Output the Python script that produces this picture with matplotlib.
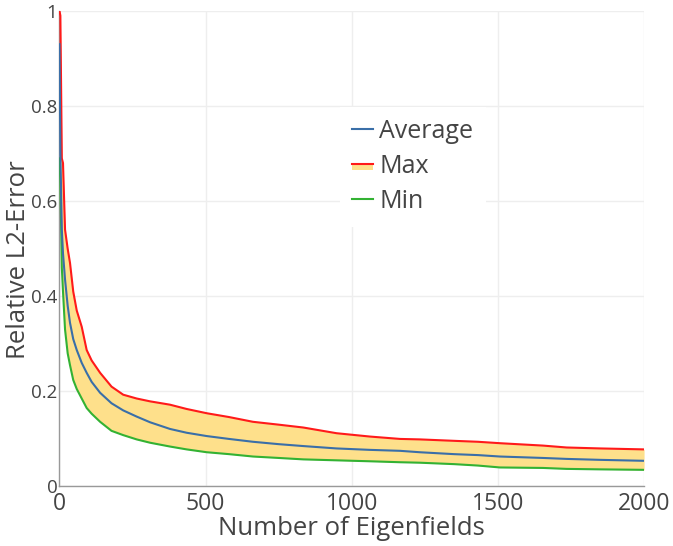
import matplotlib
matplotlib.use("Agg")
import matplotlib.pyplot as plt
from matplotlib.legend_handler import HandlerBase
from matplotlib.patches import Rectangle
from matplotlib.lines import Line2D

plt.rcParams['font.family'] = ['Open Sans', 'DejaVu Sans']

x_vals = [0, 3, 8, 12, 19, 28, 36, 47, 59, 76, 93, 110, 139, 178, 218, 264, 310,
          378, 435, 504, 580, 662, 750, 834, 948, 1062, 1165, 1233, 1350, 1432,
          1507, 1654, 1735, 1850, 2000]
max_vals = [1.0, 0.99, 0.69, 0.68, 0.54, 0.50, 0.47, 0.41, 0.37, 0.336, 0.287,
            0.265, 0.239, 0.21, 0.193, 0.185, 0.179, 0.172, 0.163, 0.154, 0.146,
            0.136, 0.130, 0.124, 0.112, 0.105, 0.100, 0.099, 0.096, 0.094, 0.091,
            0.086, 0.082, 0.080, 0.078]
avg_vals = [0.93, 0.70, 0.54, 0.49, 0.435, 0.38, 0.344, 0.31, 0.287, 0.26, 0.239,
            0.22, 0.197, 0.175, 0.16, 0.147, 0.135, 0.121, 0.113, 0.106, 0.100,
            0.094, 0.089, 0.085, 0.080, 0.077, 0.075, 0.072, 0.068, 0.066, 0.063,
            0.060, 0.058, 0.056, 0.054]
min_vals = [0.69, 0.64, 0.46, 0.41, 0.33, 0.28, 0.255, 0.224, 0.205, 0.185, 0.165,
            0.153, 0.136, 0.117, 0.108, 0.099, 0.092, 0.084, 0.078, 0.072, 0.068,
            0.063, 0.060, 0.057, 0.055, 0.053, 0.051, 0.050, 0.047, 0.044, 0.040,
            0.039, 0.037, 0.036, 0.035]

x_ticks = [0, 500, 1000, 1500, 2000]
y_ticks = [0, 0.2, 0.4, 0.6, 0.8, 1]
y_tick_labels = ["0", "0.2", "0.4", "0.6", "0.8", "1"]

RED = '#ff1a1a'
BLUE = '#3a6fa8'
GREEN = '#33b233'
FILL = '#fee08b'

fig = plt.figure(figsize=(6.73, 5.46), dpi=100)
ax = fig.add_axes([0.0884, 0.109, 0.8686, 0.871])

ax.fill_between(x_vals, min_vals, max_vals, color=FILL, lw=0, zorder=1)
ax.plot(x_vals, min_vals, color=GREEN, lw=1.5, zorder=3)
ax.plot(x_vals, max_vals, color=RED, lw=1.5, zorder=3)
ax.plot(x_vals, avg_vals, color=BLUE, lw=1.5, zorder=4)

ax.set_xlim(0, 2000)
ax.set_ylim(0, 1)
ax.set_xticks(x_ticks)
ax.set_yticks(y_ticks)
ax.set_yticklabels(y_tick_labels)
ax.grid(True, color='#eeeeee', lw=1)
ax.set_axisbelow(True)
for s in ['top', 'right']:
    ax.spines[s].set_visible(False)
for s in ['left', 'bottom']:
    ax.spines[s].set_color('#999999')
    ax.spines[s].set_linewidth(1)
ax.tick_params(axis='x', length=0, labelsize=16.5, colors='#444444', pad=4)
ax.tick_params(axis='y', length=0, labelsize=13.5, colors='#444444', pad=1.5)
ax.set_xlabel('Number of Eigenfields', fontsize=18.5, color='#444444', labelpad=0)
ax.set_ylabel('Relative L2-Error', fontsize=18.5, color='#444444')
ax.yaxis.label.set_va('center')
ax.yaxis.set_label_coords((19 - 59.5) / 584.5, (486.5 - 260) / 475.5)


class FillLineHandler(HandlerBase):
    def create_artists(self, legend, orig_handle, xdescent, ydescent, width,
                       height, fontsize, trans):
        yc = height / 2 - ydescent
        rect = Rectangle((-xdescent, yc - height * 0.35), width, height * 0.35,
                         facecolor=FILL, edgecolor='none', transform=trans)
        line = Line2D([-xdescent, -xdescent + width], [yc, yc], color=RED,
                      lw=1.5, transform=trans)
        return [rect, line]


h_avg = Line2D([], [], color=BLUE, lw=1.5)
h_max = Rectangle((0, 0), 1, 1)
h_min = Line2D([], [], color=GREEN, lw=1.5)
leg = ax.legend([h_avg, h_max, h_min], ['Average', 'Max', 'Min'],
                handler_map={Rectangle: FillLineHandler()},
                loc='upper left', bbox_to_anchor=(339.5 / 673, 1 - 106.5 / 546),
                bbox_transform=fig.transFigure, fontsize=18,
                frameon=True, facecolor='white', edgecolor='none', framealpha=1,
                fancybox=False, handlelength=0.84, handletextpad=0.24,
                labelspacing=0.4, borderpad=0.5, borderaxespad=0)
for t in leg.get_texts():
    t.set_color('#444444')

fig.savefig('out.png', dpi=100)
